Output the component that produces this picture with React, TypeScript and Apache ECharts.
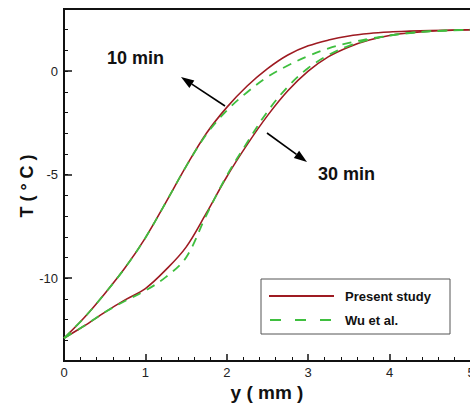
import React, { useEffect, useRef } from "react";
import * as echarts from "echarts";

const yMm = [0, 0.25, 0.5, 0.75, 1, 1.25, 1.5, 1.75, 2, 2.25, 2.5, 2.75, 3, 3.25, 3.5, 3.75, 4, 4.25, 4.5, 5];
const present10 = [-12.9, -11.9, -10.75, -9.5, -8.05, -6.35, -4.6, -3.0, -1.75, -0.72, 0.12, 0.78, 1.22, 1.5, 1.7, 1.82, 1.89, 1.93, 1.96, 2.0];
const wu10 = [-12.9, -11.9, -10.75, -9.5, -8.05, -6.35, -4.6, -3.05, -1.9, -1.02, -0.28, 0.27, 0.73, 1.1, 1.36, 1.56, 1.72, 1.84, 1.92, 2.0];
const present30 = [-12.9, -12.3, -11.65, -11.05, -10.5, -9.6, -8.5, -6.85, -5.1, -3.55, -2.15, -0.95, 0.0, 0.7, 1.17, 1.5, 1.72, 1.85, 1.93, 2.0];
const wu30 = [-12.9, -12.3, -11.65, -11.1, -10.6, -9.95, -9.0, -6.95, -5.05, -3.45, -1.95, -0.75, 0.15, 0.78, 1.22, 1.52, 1.72, 1.85, 1.93, 2.0];
const majorYTicks = [-10, -5, 0];
const seriesNames = ["Present study", "Wu et al."];
const timeLabels = ["10 min", "30 min"];

const RED = "#9e1b22";
const GREEN = "#3fbf3f";
const FONT = "Liberation Sans, Arial, sans-serif";

function pairs(xs: number[], ys: number[]) {
  return xs.map((x, i) => [x, ys[i]]);
}

function arrow(x1: number, y1: number, x2: number, y2: number) {
  const dx = x2 - x1, dy = y2 - y1;
  const len = Math.sqrt(dx * dx + dy * dy);
  const ux = dx / len, uy = dy / len;
  const hl = 13, hw = 4.5;
  const bx = x2 - ux * hl, by = y2 - uy * hl;
  const nx = -uy * hw, ny = ux * hw;
  return [
    { type: "line", shape: { x1, y1, x2: bx, y2: by }, style: { stroke: "#000", lineWidth: 1.6 } },
    {
      type: "polygon",
      shape: { points: [[x2, y2], [bx + nx, by + ny], [bx - nx, by - ny]] },
      style: { fill: "#000" },
    },
  ];
}

export default function App() {
  const ref = useRef<HTMLDivElement>(null);
  useEffect(() => {
    const chart = echarts.init(ref.current!, null, { renderer: "svg" });
    const bold = (size: number) => `bold ${size}px ${FONT}`;
    chart.setOption({
      animation: false,
      backgroundColor: "#fff",
      grid: {
        left: 64, top: 9, width: 407, height: 352,
        show: true, borderColor: "#111", borderWidth: 2, backgroundColor: "transparent",
        containLabel: false, outerBoundsMode: "none",
      },
      xAxis: {
        type: "value",
        min: 0,
        max: 5,
        interval: 1,
        axisLine: { show: true, onZero: false, lineStyle: { color: "#111", width: 2 } },
        axisTick: { show: true, inside: true, length: 7, lineStyle: { color: "#111", width: 1.5 } },
        minorTick: { show: true, splitNumber: 5, length: 4, lineStyle: { color: "#111", width: 1 } },
        axisLabel: { color: "#222", fontSize: 13, fontFamily: FONT, margin: 5 },
        splitLine: { show: false },
      },
      yAxis: [
        {
          type: "value",
          min: -14,
          max: 3,
          interval: 1,
          position: "left",
          axisLine: { show: true, onZero: false, lineStyle: { color: "#111", width: 2 } },
          axisTick: { show: true, inside: true, length: 4, lineStyle: { color: "#111", width: 1 } },
          axisLabel: {
            color: "#222",
            fontSize: 13,
            fontFamily: FONT,
            margin: 6,
            formatter: (v: number) => (majorYTicks.indexOf(v) >= 0 ? String(v) : ""),
          },
          splitLine: { show: false },
        },
        {
          type: "value",
          min: -14,
          max: 3,
          interval: 1,
          position: "left",
          offset: 0,
          axisLine: { show: false },
          axisTick: { show: true, inside: true, length: 8, customValues: majorYTicks, lineStyle: { color: "#111", width: 1.5 } },
          axisLabel: { show: false },
          splitLine: { show: false },
        },
      ],
      series: [
        { name: seriesNames[0], type: "line", data: pairs(yMm, present10), smooth: 0.35, showSymbol: false, lineStyle: { color: RED, width: 1.6 } },
        { name: seriesNames[0], type: "line", data: pairs(yMm, present30), smooth: 0.35, showSymbol: false, lineStyle: { color: RED, width: 1.6 } },
        { name: seriesNames[1], type: "line", data: pairs(yMm, wu10), smooth: 0.35, showSymbol: false, lineStyle: { color: GREEN, width: 1.8, type: [9, 7] } },
        { name: seriesNames[1], type: "line", data: pairs(yMm, wu30), smooth: 0.35, showSymbol: false, lineStyle: { color: GREEN, width: 1.8, type: [9, 7] } },
      ],
      graphic: [
        { type: "text", x: 107, y: 58, style: { text: timeLabels[0], font: bold(18), fill: "#111", verticalAlign: "middle" } },
        { type: "text", x: 318, y: 174, style: { text: timeLabels[1], font: bold(18), fill: "#111", verticalAlign: "middle" } },
        ...arrow(225, 106, 181, 77),
        ...arrow(267, 133, 307, 162),
        { type: "rect", shape: { x: 261, y: 279, width: 189, height: 55 }, style: { fill: "#fff", stroke: "#555", lineWidth: 1 } },
        { type: "line", shape: { x1: 269, y1: 296, x2: 334, y2: 296 }, style: { stroke: RED, lineWidth: 2 } },
        { type: "line", shape: { x1: 270, y1: 320, x2: 331, y2: 320 }, style: { stroke: GREEN, lineWidth: 2, lineDash: [11, 14] } },
        { type: "text", x: 345, y: 296, style: { text: seriesNames[0], font: bold(13), fill: "#111", verticalAlign: "middle" } },
        { type: "text", x: 345, y: 320, style: { text: seriesNames[1], font: bold(13), fill: "#111", verticalAlign: "middle" } },
        { type: "text", x: 267, y: 392, style: { text: "y ( mm )", font: bold(19), fill: "#111", align: "center", verticalAlign: "middle" } },
        { type: "text", x: 27, y: 186, rotation: Math.PI / 2, style: { text: "T ( ° C )", font: bold(18), fill: "#111", align: "center", verticalAlign: "middle" } },
      ],
    });
    return () => chart.dispose();
  }, []);
  return <div ref={ref} style={{ width: 470, height: 405, position: "absolute", left: 0, top: 0 }} />;
}
